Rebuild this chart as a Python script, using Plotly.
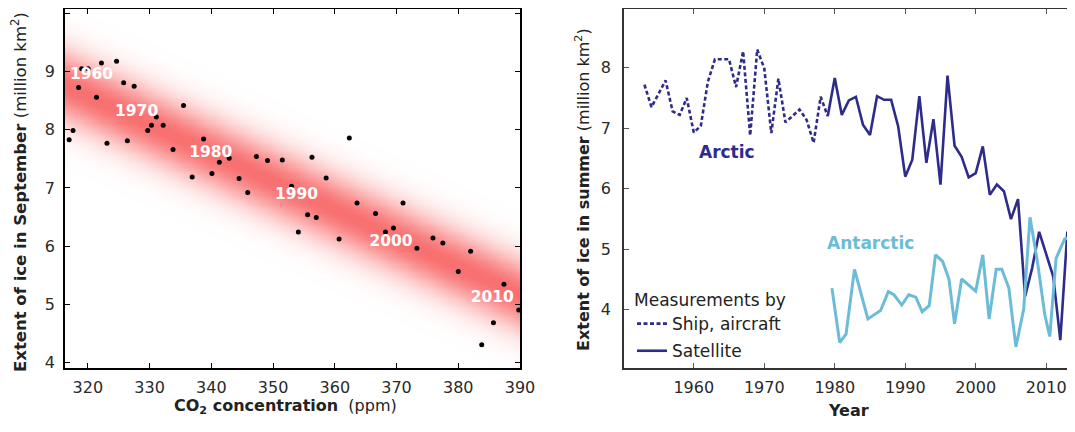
import numpy as np
import plotly.graph_objects as go

# ---------------- Left panel data: CO2 vs September sea-ice extent ----------------
co2_ppm = [316.97, 317.6, 318.5, 319.0, 320.05, 321.4, 322.2, 323.1, 324.65, 325.8,
           326.4, 327.5, 329.7, 330.3, 331.1, 332.2, 333.8, 335.5, 336.9, 338.75,
           340.1, 341.3, 342.9, 344.5, 345.9, 347.3, 349.1, 351.5, 353.0, 354.1,
           355.6, 356.3, 357.0, 358.6, 360.7, 362.35, 363.6, 366.6, 368.2, 369.5,
           371.05, 373.3, 375.9, 377.5, 380.0, 382.0, 383.8, 385.7, 387.4, 389.8]
sept_extent = [7.83, 7.99, 8.73, 9.05, 9.05, 8.56, 9.15, 7.77, 9.18, 8.81,
               7.81, 8.75, 7.99, 8.08, 8.22, 8.08, 7.66, 8.42, 7.19, 7.84,
               7.25, 7.44, 7.51, 7.16, 6.92, 7.54, 7.47, 7.48, 7.03, 6.24,
               6.54, 7.53, 6.49, 7.17, 6.12, 7.86, 6.74, 6.56, 6.24, 6.31,
               6.74, 5.96, 6.14, 6.05, 5.56, 5.91, 4.30, 4.68, 5.34, 4.90]

decade_labels = ["1960", "1970", "1980", "1990", "2000", "2010"]
decade_co2 = [320.6, 327.9, 339.9, 353.8, 369.1, 385.5]
decade_extent = [8.95, 8.31, 7.60, 6.88, 6.07, 5.10]

# trend band (centre line end points and spread)
band_co2 = [316.3, 390.0]
band_centre = [8.76, 5.16]
band_sigma = 0.6

co2_ticks = [320, 330, 340, 350, 360, 370, 380, 390]
sept_ticks = [4, 5, 6, 7, 8, 9, 10]

# ---------------- Right panel data: summer extent time series ----------------
ship_years = list(range(1953, 1980))
ship_arctic = [7.72, 7.35, 7.57, 7.79, 7.28, 7.22, 7.50, 6.93, 7.04, 7.77,
               8.14, 8.14, 8.14, 7.68, 8.27, 6.88, 8.30, 7.99, 6.92, 7.82,
               7.10, 7.20, 7.31, 7.14, 6.76, 7.52, 7.20]

sat_years = list(range(1979, 2015))
sat_arctic = [7.20, 7.83, 7.22, 7.46, 7.52, 7.06, 6.89, 7.53, 7.47, 7.47,
              7.03, 6.20, 6.48, 7.53, 6.43, 7.15, 6.07, 7.87, 6.71, 6.53,
              6.19, 6.26, 6.70, 5.90, 6.07, 5.96, 5.50, 5.83, 4.22, 4.69,
              5.29, 4.90, 4.55, 3.50, 5.29, 5.21]

antarctic_years = [1979.6, 1980.7, 1981.6, 1982.8, 1984.7, 1986.5, 1987.6, 1988.4,
                   1989.5, 1990.5, 1991.5, 1992.4, 1993.4, 1994.3, 1995.3, 1996.2,
                   1997.0, 1998.0, 2000.0, 2001.0, 2001.9, 2002.9, 2003.7, 2004.7,
                   2005.7, 2006.8, 2007.7, 2008.8, 2009.8, 2010.5, 2011.4, 2012.6,
                   2013.6]
antarctic = [4.36, 3.46, 3.60, 4.67, 3.85, 3.99, 4.30, 4.25,
             4.08, 4.25, 4.21, 3.97, 4.07, 4.91, 4.80, 4.51,
             3.77, 4.51, 4.31, 4.91, 3.85, 4.67, 4.67, 4.36,
             3.39, 4.01, 5.53, 4.76, 3.92, 3.56, 4.85, 5.17,
             5.20]

year_ticks = [1960, 1970, 1980, 1990, 2000, 2010]
summer_ticks = [4, 5, 6, 7, 8]

# ---------------- styling ----------------
FONT = "DejaVu Sans"
NAVY = "#2e2c8a"
LIGHT = "#6cbcd8"
TICK_COL = "#2a2a2a"

fig = go.Figure()

# gradient band (heatmap of distance from the trend centre line)
x_range_left = [316.3, 390.0]
y_range_left = [3.9, 10.08]
gx = np.linspace(x_range_left[0], x_range_left[1], 220)
gy = np.linspace(y_range_left[0], y_range_left[1], 320)
slope = (band_centre[1] - band_centre[0]) / (band_co2[1] - band_co2[0])
centre = band_centre[0] + slope * (gx - band_co2[0])
dist = gy[:, None] - centre[None, :]
gz = np.exp(-(dist / band_sigma) ** 2)
fig.add_trace(go.Heatmap(
    x=gx, y=gy, z=gz, xaxis="x", yaxis="y",
    colorscale=[[0, "rgb(255,255,255)"], [0.5, "rgb(252,182,182)"], [1, "rgb(248,112,112)"]],
    zmin=0, zmax=1, showscale=False, hoverinfo="skip", zsmooth="best",
    showlegend=False))

fig.add_trace(go.Scatter(
    x=co2_ppm, y=sept_extent, mode="markers", xaxis="x", yaxis="y",
    marker=dict(color="black", size=5), showlegend=False,
    cliponaxis=False))

fig.add_trace(go.Scatter(
    x=decade_co2, y=decade_extent, mode="text", text=decade_labels,
    xaxis="x", yaxis="y",
    textfont=dict(family=FONT, size=15.5, color="white", weight="bold"),
    showlegend=False, hoverinfo="skip"))

# right panel
fig.add_trace(go.Scatter(
    x=ship_years, y=ship_arctic, mode="lines", xaxis="x2", yaxis="y2",
    line=dict(color=NAVY, width=2.6, dash="4px,2.5px"),
    name="Ship, aircraft", legendgroup="ship", showlegend=True))
fig.add_trace(go.Scatter(
    x=sat_years, y=sat_arctic, mode="lines", xaxis="x2", yaxis="y2",
    line=dict(color=NAVY, width=2.6),
    name="Satellite", legendgroup="sat", showlegend=True))
fig.add_trace(go.Scatter(
    x=antarctic_years, y=antarctic, mode="lines", xaxis="x2", yaxis="y2",
    line=dict(color=LIGHT, width=3),
    name="Antarctic", showlegend=False))

axis_common = dict(
    showgrid=False, zeroline=False, showline=True, mirror="ticks",
    ticks="inside", ticklen=5, tickwidth=1, automargin=False,
    tickfont=dict(family=FONT, size=16, color=TICK_COL),
)

# The page body has an 8px default margin, so the figure is offset by 8px.
PAGE_OFF = 8
W, H = 1075 - PAGE_OFF, 432 - PAGE_OFF
# desired plot area in page pixels
PLOT_L, PLOT_R, PLOT_T, PLOT_B = 65, 1073, 9, 368
L_MARGIN = PLOT_L - PAGE_OFF
T_MARGIN = PLOT_T - PAGE_OFF
R_MARGIN = W - (PLOT_R - PAGE_OFF)
B_MARGIN = H - (PLOT_B - PAGE_OFF)
pw = PLOT_R - PLOT_L
ph = PLOT_B - PLOT_T


def px_x(p):
    return (p - PLOT_L) / pw


def px_y(p):
    return (PLOT_B - p) / ph


fig.update_layout(
    width=W, height=H,
    margin=dict(l=L_MARGIN, r=R_MARGIN, t=T_MARGIN, b=B_MARGIN, pad=0),
    paper_bgcolor="white", plot_bgcolor="white",
    font=dict(family=FONT, color=TICK_COL),
    xaxis=dict(domain=[0, px_x(520)], range=x_range_left, tickvals=co2_ticks,
               linecolor="black", linewidth=1.5, tickcolor="black", anchor="y",
               ticklabelstandoff=4, **axis_common),
    yaxis=dict(domain=[0, 1], range=y_range_left, tickvals=sept_ticks,
               linecolor="black", linewidth=1.5, tickcolor="black", anchor="x",
               ticklabelstandoff=5, **axis_common),
    xaxis2=dict(domain=[px_x(624), 1], range=[1950.1, 2013.8], tickvals=year_ticks,
                linecolor="#333333", linewidth=1.5, tickcolor="#555555", anchor="y2",
                ticklabelstandoff=4, **axis_common),
    yaxis2=dict(domain=[0, 1], range=[3.04, 8.97], tickvals=summer_ticks,
                linecolor="#333333", linewidth=1.5, tickcolor="#555555", anchor="x2",
                ticklabelstandoff=8, **axis_common),
    legend=dict(
        x=px_x(632), y=px_y(369), xanchor="left", yanchor="bottom",
        bgcolor="rgba(0,0,0,0)",
        title=dict(text="Measurements by", font=dict(family=FONT, size=17, color="#222")),
        font=dict(family=FONT, size=17, color="#222"),
        itemwidth=30, tracegroupgap=2,
    ),
    annotations=[
        dict(text="<b>Extent of ice in September</b> (million km<sup>2</sup>)",
             xref="paper", yref="paper", x=px_x(19), y=px_y(192),
             textangle=-90, showarrow=False, xanchor="center", yanchor="middle",
             font=dict(family=FONT, size=16.5, color="#222")),
        dict(text="<b>CO<sub>2</sub> concentration</b>  (ppm)",
             xref="paper", yref="paper", x=px_x(285), y=px_y(406),
             showarrow=False, xanchor="center", yanchor="middle",
             font=dict(family=FONT, size=16, color="#222")),
        dict(text="<b>Extent of ice in summer</b> (million km<sup>2</sup>)",
             xref="paper", yref="paper", x=px_x(583), y=px_y(190),
             textangle=-90, showarrow=False, xanchor="center", yanchor="middle",
             font=dict(family=FONT, size=16, color="#222")),
        dict(text="<b>Year</b>",
             xref="paper", yref="paper", x=px_x(848), y=px_y(410),
             showarrow=False, xanchor="center", yanchor="middle",
             font=dict(family=FONT, size=16, color="#222")),
        dict(text="<b>Arctic</b>", xref="x2", yref="y2", x=1964.7, y=6.60,
             showarrow=False, font=dict(family=FONT, size=17, color=NAVY)),
        dict(text="<b>Antarctic</b>", xref="x2", yref="y2", x=1985.0, y=5.11,
             showarrow=False, font=dict(family=FONT, size=17, color=LIGHT)),
    ],
)

fig.write_html("out.html")
